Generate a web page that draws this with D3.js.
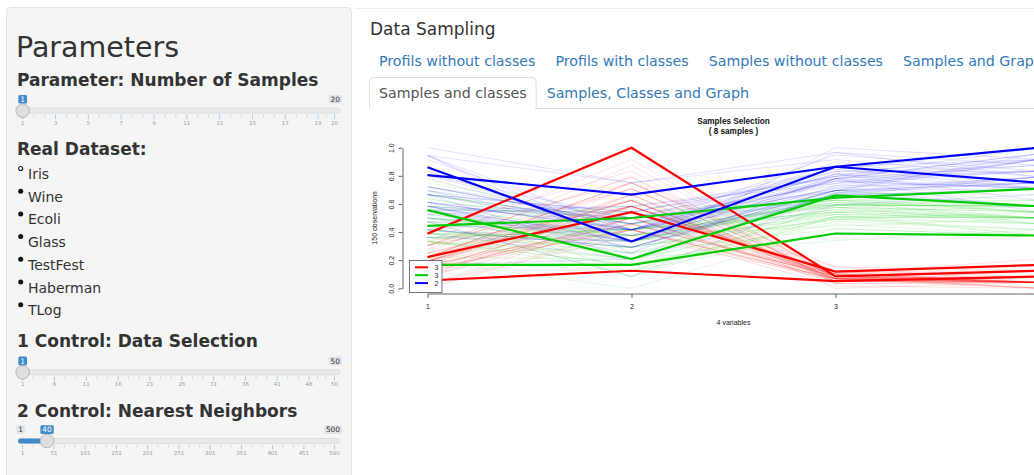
<!DOCTYPE html>
<html>
<head>
<meta charset="utf-8">
<script src="https://cdn.jsdelivr.net/npm/d3@7"></script>
<style>
  body { margin: 0; background: #fff; overflow: hidden; }
  svg text { font-family: "DejaVu Sans", sans-serif; }
  .plot text { font-family: "Liberation Sans", Arial, sans-serif; }
</style>
</head>
<body>
<svg id="page" width="1034" height="475"></svg>
<script>
// ---- data ----
// iris (150 observations, 4 variables), one array per class
const setosa = [
[5.1,3.5,1.4,0.2],[4.9,3.0,1.4,0.2],[4.7,3.2,1.3,0.2],[4.6,3.1,1.5,0.2],[5.0,3.6,1.4,0.2],
[5.4,3.9,1.7,0.4],[4.6,3.4,1.4,0.3],[5.0,3.4,1.5,0.2],[4.4,2.9,1.4,0.2],[4.9,3.1,1.5,0.1],
[5.4,3.7,1.5,0.2],[4.8,3.4,1.6,0.2],[4.8,3.0,1.4,0.1],[4.3,3.0,1.1,0.1],[5.8,4.0,1.2,0.2],
[5.7,4.4,1.5,0.4],[5.4,3.9,1.3,0.4],[5.1,3.5,1.4,0.3],[5.7,3.8,1.7,0.3],[5.1,3.8,1.5,0.3],
[5.4,3.4,1.7,0.2],[5.1,3.7,1.5,0.4],[4.6,3.6,1.0,0.2],[5.1,3.3,1.7,0.5],[4.8,3.4,1.9,0.2],
[5.0,3.0,1.6,0.2],[5.0,3.4,1.6,0.4],[5.2,3.5,1.5,0.2],[5.2,3.4,1.4,0.2],[4.7,3.2,1.6,0.2],
[4.8,3.1,1.6,0.2],[5.4,3.4,1.5,0.4],[5.2,4.1,1.5,0.1],[5.5,4.2,1.4,0.2],[4.9,3.1,1.5,0.2],
[5.0,3.2,1.2,0.2],[5.5,3.5,1.3,0.2],[4.9,3.6,1.4,0.1],[4.4,3.0,1.3,0.2],[5.1,3.4,1.5,0.2],
[5.0,3.5,1.3,0.3],[4.5,2.3,1.3,0.3],[4.4,3.2,1.3,0.2],[5.0,3.5,1.6,0.6],[5.1,3.8,1.9,0.4],
[4.8,3.0,1.4,0.3],[5.1,3.8,1.6,0.2],[4.6,3.2,1.4,0.2],[5.3,3.7,1.5,0.2],[5.0,3.3,1.4,0.2]
];
const versicolor = [
[7.0,3.2,4.7,1.4],[6.4,3.2,4.5,1.5],[6.9,3.1,4.9,1.5],[5.5,2.3,4.0,1.3],[6.5,2.8,4.6,1.5],
[5.7,2.8,4.5,1.3],[6.3,3.3,4.7,1.6],[4.9,2.4,3.3,1.0],[6.6,2.9,4.6,1.3],[5.2,2.7,3.9,1.4],
[5.0,2.0,3.5,1.0],[5.9,3.0,4.2,1.5],[6.0,2.2,4.0,1.0],[6.1,2.9,4.7,1.4],[5.6,2.9,3.6,1.3],
[6.7,3.1,4.4,1.4],[5.6,3.0,4.5,1.5],[5.8,2.7,4.1,1.0],[6.2,2.2,4.5,1.5],[5.6,2.5,3.9,1.1],
[5.9,3.2,4.8,1.8],[6.1,2.8,4.0,1.3],[6.3,2.5,4.9,1.5],[6.1,2.8,4.7,1.2],[6.4,2.9,4.3,1.3],
[6.6,3.0,4.4,1.4],[6.8,2.8,4.8,1.4],[6.7,3.0,5.0,1.7],[6.0,2.9,4.5,1.5],[5.7,2.6,3.5,1.0],
[5.5,2.4,3.8,1.1],[5.5,2.4,3.7,1.0],[5.8,2.7,3.9,1.2],[6.0,2.7,5.1,1.6],[5.4,3.0,4.5,1.5],
[6.0,3.4,4.5,1.6],[6.7,3.1,4.7,1.5],[6.3,2.3,4.4,1.3],[5.6,3.0,4.1,1.3],[5.5,2.5,4.0,1.3],
[5.5,2.6,4.4,1.2],[6.1,3.0,4.6,1.4],[5.8,2.6,4.0,1.2],[5.0,2.3,3.3,1.0],[5.6,2.7,4.2,1.3],
[5.7,3.0,4.2,1.2],[5.7,2.9,4.2,1.3],[6.2,2.9,4.3,1.3],[5.1,2.5,3.0,1.1],[5.7,2.8,4.1,1.3]
];
const virginica = [
[6.3,3.3,6.0,2.5],[5.8,2.7,5.1,1.9],[7.1,3.0,5.9,2.1],[6.3,2.9,5.6,1.8],[6.5,3.0,5.8,2.2],
[7.6,3.0,6.6,2.1],[4.9,2.5,4.5,1.7],[7.3,2.9,6.3,1.8],[6.7,2.5,5.8,1.8],[7.2,3.6,6.1,2.5],
[6.5,3.2,5.1,2.0],[6.4,2.7,5.3,1.9],[6.8,3.0,5.5,2.1],[5.7,2.5,5.0,2.0],[5.8,2.8,5.1,2.4],
[6.4,3.2,5.3,2.3],[6.5,3.0,5.5,1.8],[7.7,3.8,6.7,2.2],[7.7,2.6,6.9,2.3],[6.0,2.2,5.0,1.5],
[6.9,3.2,5.7,2.3],[5.6,2.8,4.9,2.0],[7.7,2.8,6.7,2.0],[6.3,2.7,4.9,1.8],[6.7,3.3,5.7,2.1],
[7.2,3.2,6.0,1.8],[6.2,2.8,4.8,1.8],[6.1,3.0,4.9,1.8],[6.4,2.8,5.6,2.1],[7.2,3.0,5.8,1.6],
[7.4,2.8,6.1,1.9],[7.9,3.8,6.4,2.0],[6.4,2.8,5.6,2.2],[6.3,2.8,5.1,1.5],[6.1,2.6,5.6,1.4],
[7.7,3.0,6.1,2.3],[6.3,3.4,5.6,2.4],[6.4,3.1,5.5,1.8],[6.0,3.0,4.8,1.8],[6.9,3.1,5.4,2.1],
[6.7,3.1,5.6,2.4],[6.9,3.1,5.1,2.3],[5.8,2.7,5.1,1.9],[6.8,3.2,5.9,2.3],[6.7,3.3,5.7,2.5],
[6.7,3.0,5.2,2.3],[6.3,2.5,5.0,1.9],[6.5,3.0,5.2,2.0],[6.2,3.4,5.4,2.3],[5.9,3.0,5.1,1.8]
];
const variables = [1, 2, 3, 4];
const yTicks = [0, 0.2, 0.4, 0.6, 0.8, 1.0];
// selected samples (1-based row numbers in iris)
const sampleRows = [16, 24, 42, 73, 71, 58, 131, 110];
const legendLabels = ["3", "3", "2"];
const classColors = ["#ff0000", "#00cd00", "#0000ff"];
const plotTitle = ["Samples Selection", "( 8 samples )"];

// ui
const datasets = ["Iris", "Wine", "Ecoli", "Glass", "TestFest", "Haberman", "TLog"];
const tabsRow1 = ["Profils without classes", "Profils with classes", "Samples without classes", "Samples and Graph"];
const tabsRow2 = ["Samples and classes", "Samples, Classes and Graph"];
const sliderMin = [1, 1, 1];
const sliderMax = [20, 50, 500];
const sliderValue = [1, 1, 40];
const samplesTicks = [1, 3, 5, 7, 9, 11, 13, 15, 17, 19, 20];
const selectionTicks = [1, 6, 11, 16, 21, 26, 31, 36, 41, 46, 50];
const neighborTicks = [1, 51, 101, 151, 201, 251, 301, 351, 401, 451, 500];

const svg = d3.select("#page");

// ---- sidebar ----
svg.append("rect")
   .attr("x", 6.5).attr("y", 7.5).attr("width", 345).attr("height", 490)
   .attr("rx", 4).attr("fill", "#f5f5f5").attr("stroke", "#e3e3e3");

let txt = (x, y, s, size, weight, color) => svg.append("text")
   .attr("x", x).attr("y", y).text(s)
   .style("font-size", size + "px").style("font-weight", weight || "normal")
   .attr("fill", color || "#333");

txt(16, 57, "Parameters", 28.5);
txt(17, 86, "Parameter: Number of Samples", 17, "bold");
txt(17, 155, "Real Dataset:", 17, "bold");
txt(17, 347, "1 Control: Data Selection", 17, "bold");
txt(17, 417, "2 Control: Nearest Neighbors", 17, "bold");

datasets.forEach((d, i) => {
    let by = 179 + i * 22.7;
    svg.append("circle")
       .attr("cx", 20.7).attr("cy", by - 10.5).attr("r", i == 0 ? 2 : 2.5)
       .attr("fill", i == 0 ? "#fff" : "#111")
       .attr("stroke", "#111").attr("stroke-width", i == 0 ? 1.1 : 0);
    txt(28, by, d, 14);
});

let drawSlider = (trackY, min, max, value, ticks, showMin) => {
    let g = svg.append("g");
    let sx = d3.scaleLinear().domain([min, max]).range([22.7, 334.5]);

    g.append("rect").attr("x", 18).attr("y", trackY - 2.5).attr("width", 322).attr("height", 5)
     .attr("rx", 2.5).attr("fill", "#e9e9e9").attr("stroke", "#d9d9d9").attr("stroke-width", 0.8);
    if (value > min) {
        g.append("rect").attr("x", 18).attr("y", trackY - 2.5).attr("width", sx(value) - 18).attr("height", 5)
         .attr("rx", 2.5).attr("fill", "#428bca");
    }

    // grid
    ticks.forEach((t, i) => {
        g.append("line").attr("x1", sx(t)).attr("x2", sx(t))
         .attr("y1", trackY + 4).attr("y2", trackY + 8.5)
         .attr("stroke", "#a9c6e6").attr("stroke-width", 1);
        g.append("text").attr("x", sx(t)).attr("y", trackY + 14)
         .attr("text-anchor", "middle").style("font-size", "5.5px").attr("fill", "#999").text(t);
        if (i > 0) {
            let a = sx(ticks[i - 1]), b = sx(t);
            let n = (b - a) > 20 ? 2 : 1;
            for (let k = 1; k <= n; k++) {
                let xx = a + (b - a) * k / (n + 1);
                g.append("line").attr("x1", xx).attr("x2", xx)
                 .attr("y1", trackY + 4).attr("y2", trackY + 6.5)
                 .attr("stroke", "#cfcfcf").attr("stroke-width", 1);
            }
        }
    });

    // handle
    g.append("circle").attr("cx", sx(value)).attr("cy", trackY).attr("r", 6.8)
     .attr("fill", "#dedede").attr("stroke", "#b5b5b5").attr("stroke-width", 1);

    let badge = (cx, s, fill, color, anchor) => {
        let w = s.length * 4.7 + 4;
        let x0 = anchor == "end" ? cx - w : cx - w / 2;
        g.append("rect").attr("x", x0).attr("y", trackY - 15.7).attr("width", w).attr("height", 8.6)
         .attr("rx", 1.5).attr("fill", fill);
        g.append("text").attr("x", x0 + w / 2).attr("y", trackY - 8.7).attr("text-anchor", "middle")
         .style("font-size", "7.4px").attr("fill", color).text(s);
    };
    if (showMin) badge(20.7, String(min), "#e1e4e9", "#333");
    badge(342, String(max), "#e1e4e9", "#333", "end");
    badge(sx(value), String(value), "#428bca", "#fff");
};

drawSlider(110.7, sliderMin[0], sliderMax[0], sliderValue[0], samplesTicks, false);
drawSlider(372.3, sliderMin[1], sliderMax[1], sliderValue[1], selectionTicks, false);
drawSlider(441, sliderMin[2], sliderMax[2], sliderValue[2], neighborTicks, true);

// ---- main panel ----
svg.append("line").attr("x1", 355).attr("x2", 1034).attr("y1", 8.5).attr("y2", 8.5)
   .attr("stroke", "#eeeeee");
txt(370, 35, "Data Sampling", 17);

let drawTabs = (names, top, activeIdx) => {
    let x = 369;
    names.forEach((n, i) => {
        let t = svg.append("text").attr("y", top + 20.5).text(n)
                   .style("font-size", "14.2px")
                   .attr("fill", i === activeIdx ? "#555" : "#337ab7");
        let w = t.node().getComputedTextLength() + 20;
        t.attr("x", x + 10);
        if (i === activeIdx) {
            svg.insert("path", "text")
               .attr("d", `M${x + 0.5},${top + 31.5} V${top + 4.5} Q${x + 0.5},${top + 0.5} ${x + 4.5},${top + 0.5} H${x + w - 4.5} Q${x + w - 0.5},${top + 0.5} ${x + w - 0.5},${top + 4.5} V${top + 31.5}`)
               .attr("fill", "#fff").attr("stroke", "#dddddd");
        }
        x += w;
    });
};
drawTabs(tabsRow1, 45, -1);
drawTabs(tabsRow2, 77, 0);
svg.append("line").attr("x1", 535).attr("x2", 1034).attr("y1", 108.5).attr("y2", 108.5)
   .attr("stroke", "#dddddd");

// ---- plot ----
let plot = svg.append("g").attr("class", "plot");
let iris = setosa.concat(versicolor, virginica);
let cls = iris.map((d, i) => Math.floor(i / 50));

let norm = variables.map((v, j) => d3.scaleLinear()
    .domain(d3.extent(iris, d => d[j])).range([0, 1]));

let x = d3.scaleLinear().domain([1, 4]).range([427.5, 1039.5]);
let y = d3.scaleLinear().domain([0, 1]).range([288.3, 147.7]);

let line = d3.line()
    .x((d, j) => x(variables[j]))
    .y((d, j) => y(norm[j](d)));

plot.append("g").selectAll("path")
    .data(iris)
    .enter()
    .append("path")
    .attr("d", d => line(d))
    .attr("fill", "none")
    .attr("stroke", (d, i) => classColors[cls[i]])
    .attr("stroke-opacity", 0.15)
    .attr("stroke-width", 0.8);

plot.append("g").selectAll("path")
    .data(sampleRows)
    .enter()
    .append("path")
    .attr("d", r => line(iris[r - 1]))
    .attr("fill", "none")
    .attr("stroke", r => classColors[cls[r - 1]])
    .attr("stroke-width", 2.2)
    .attr("stroke-linejoin", "round");

// axes (the 4th tick lies past the right edge of the window, as in the app)
let yAxis = d3.axisLeft(y).tickValues(yTicks).tickFormat(d3.format(".1f")).tickSize(4).tickSizeOuter(0);
let gy = plot.append("g").attr("transform", "translate(402.5,0)").call(yAxis);
gy.selectAll("text")
  .attr("x", null).attr("dy", null).attr("y", null)
  .attr("text-anchor", "middle")
  .attr("transform", "translate(-9,0) rotate(-90)");

let xAxis = d3.axisBottom(x).tickValues(variables.filter(v => x(v) < 1034)).tickFormat(d3.format("d")).tickSize(4).tickSizeOuter(0);
let gx = plot.append("g").attr("transform", "translate(0,294)").call(xAxis);
gx.select(".domain").attr("d", `M${x(1)},0H${x(4)}`);
gx.selectAll("text").attr("dy", null).attr("y", 14.5);

[gx, gy].forEach(g => {
    g.selectAll("path,line").attr("stroke", "#555").attr("stroke-width", 0.9);
    g.selectAll("text").style("font-size", "7px").attr("fill", "#222")
     .style("font-family", "'Liberation Sans', Arial, sans-serif");
});

plot.append("text").attr("x", 733.5).attr("y", 123.5).attr("text-anchor", "middle")
    .style("font-size", "8.2px").style("font-weight", "bold").attr("fill", "#111").text(plotTitle[0]);
plot.append("text").attr("x", 733.5).attr("y", 134).attr("text-anchor", "middle")
    .style("font-size", "8.2px").style("font-weight", "bold").attr("fill", "#111").text(plotTitle[1]);
plot.append("text").attr("x", 733.5).attr("y", 325).attr("text-anchor", "middle")
    .style("font-size", "7px").attr("fill", "#222").text(variables.length + " variables");
plot.append("text").attr("transform", "translate(376.5,218) rotate(-90)").attr("text-anchor", "middle")
    .style("font-size", "7px").attr("fill", "#222").text(iris.length + " observations");

// legend
let legend = plot.append("g").attr("id", "legend");
legend.append("rect").attr("x", 409.5).attr("y", 260.5).attr("width", 32.5).attr("height", 32)
      .attr("fill", "#fff").attr("stroke", "#666").attr("stroke-width", 0.9);
legendLabels.forEach((l, i) => {
    let ly = 267.3 + i * 7.9;
    legend.append("line").attr("x1", 415).attr("x2", 428).attr("y1", ly).attr("y2", ly)
          .attr("stroke", classColors[i]).attr("stroke-width", 2);
    legend.append("text").attr("x", 434.5).attr("y", ly + 2.5)
          .style("font-size", "7px").attr("fill", "#222").text(l);
});
</script>
</body>
</html>
